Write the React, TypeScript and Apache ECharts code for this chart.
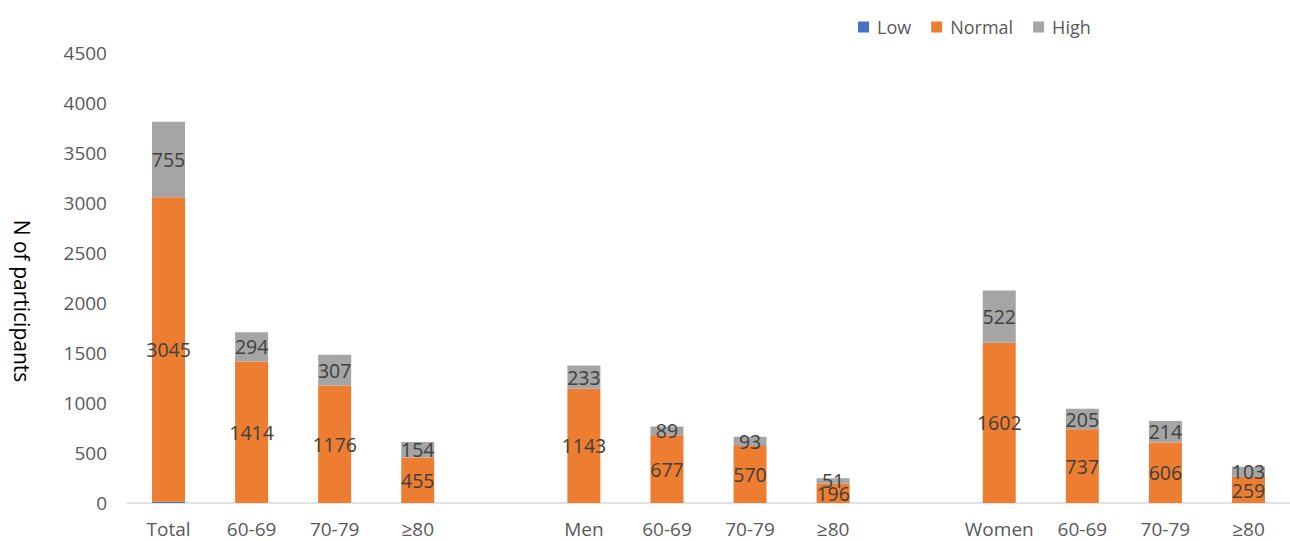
import React, { useEffect, useRef } from "react";
import * as echarts from "echarts";

// Category slots: three groups of four, separated by an empty slot
const categories = [
  "Total", "60-69", "70-79", "≥80",
  "",
  "Men", "60-69", "70-79", "≥80",
  "",
  "Women", "60-69", "70-79", "≥80",
];

// Participants per class (null = empty separator slot)
const lowValues = [12, 0, 0, 0, null, 0, 0, 0, 0, null, 0, 0, 0, 0];
const normalValues = [3045, 1414, 1176, 455, null, 1143, 677, 570, 196, null, 1602, 737, 606, 259];
const highValues = [755, 294, 307, 154, null, 233, 89, 93, 51, null, 522, 205, 214, 103];

const yTicks = { min: 0, max: 4500, interval: 500 };

const FONT = "'Open Sans', sans-serif";

export default function App() {
  const ref = useRef<HTMLDivElement>(null);

  useEffect(() => {
    if (!ref.current) return;
    const chart = echarts.init(ref.current, undefined, { renderer: "svg" });

    const dataLabel = {
      show: true,
      position: "inside" as const,
      color: "#404040",
      fontSize: 19.5,
      fontFamily: FONT,
      formatter: (p: any) => (p.value == null ? "" : String(p.value)),
    };

    chart.setOption({
      animation: false,
      textStyle: { fontFamily: FONT },
      legend: {
        data: ["Low", "Normal", "High"],
        left: 853,
        top: 13,
        itemWidth: 11,
        itemHeight: 11,
        itemGap: 20,
        icon: "rect",
        textStyle: { color: "#595959", fontSize: 18, fontFamily: FONT, padding: [0, 0, 0, 3] },
      },
      graphic: [
        {
          // vertical axis title, reading top to bottom
          type: "text",
          x: 22,
          y: 301,
          rotation: -Math.PI / 2,
          style: {
            text: "N of participants",
            fill: "#000000",
            fontSize: 21,
            fontFamily: FONT,
            align: "center",
            verticalAlign: "middle",
          },
        },
      ],
      grid: { left: 127, right: -6, top: 53, bottom: 38 },
      xAxis: {
        type: "category",
        data: categories,
        axisLine: { show: true, lineStyle: { color: "#d9d9d9", width: 1.5 } },
        axisTick: { show: false },
        axisLabel: { color: "#595959", fontSize: 19, fontFamily: FONT, margin: 16, interval: 0 },
      },
      yAxis: {
        type: "value",
        min: yTicks.min,
        max: yTicks.max,
        interval: yTicks.interval,
        axisLine: { show: false },
        axisTick: { show: false },
        splitLine: { show: false },
        axisLabel: {
          color: "#595959",
          fontSize: 19,
          fontFamily: FONT,
          margin: 20,
          formatter: (v: number) => String(v),
        },
      },
      series: [
        {
          name: "Low",
          type: "bar",
          stack: "n",
          barWidth: 33,
          data: lowValues,
          itemStyle: { color: "#4472C4" },
          label: { show: false },
        },
        {
          name: "Normal",
          type: "bar",
          stack: "n",
          barWidth: 33,
          data: normalValues,
          itemStyle: { color: "#ED7D31" },
          label: dataLabel,
        },
        {
          name: "High",
          type: "bar",
          stack: "n",
          barWidth: 33,
          data: highValues,
          itemStyle: { color: "#A5A5A5" },
          label: dataLabel,
        },
      ],
    });

    return () => chart.dispose();
  }, []);

  return (
    <div
      ref={ref}
      style={{ position: "absolute", left: 0, top: 0, width: 1290, height: 541, background: "#ffffff" }}
    />
  );
}
